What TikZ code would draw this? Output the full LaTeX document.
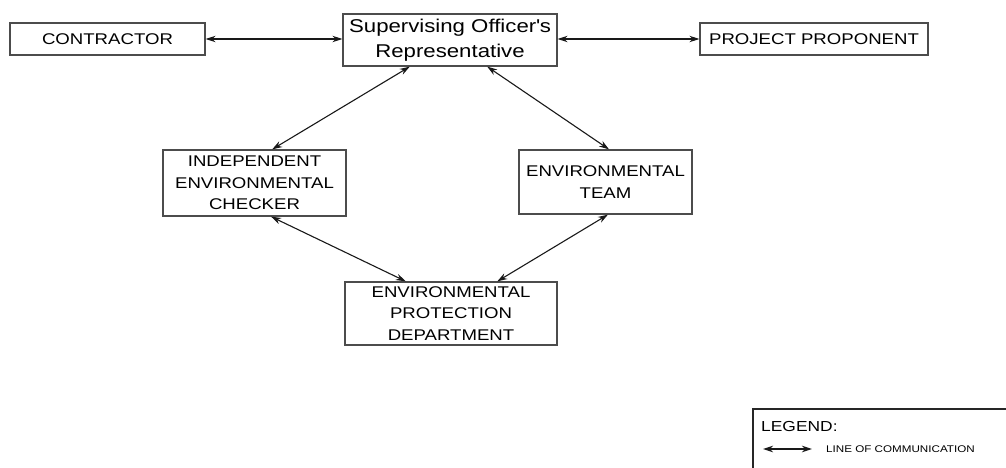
\documentclass[tikz,border=0pt]{standalone}
\usepackage{fontspec}
\setmainfont{Liberation Sans}[FakeStretch=1.2]
\usetikzlibrary{arrows.meta,calc}
\begin{document}
\begin{tikzpicture}[x=1pt,y=-1pt,
  box/.style={draw=black!70,line width=1.3pt,inner sep=0pt,align=center,
    font=\fontsize{15.5}{21.5}\selectfont},
  comm/.style={line width=1.1pt,black!90,
    {Stealth[length=10pt,width=6.5pt]}-{Stealth[length=10pt,width=6.5pt]}}]
\clip (0,0) rectangle (1006,468);
\fill[white] (0,0) rectangle (1006,468);
\node[box,minimum width=195pt,minimum height=32pt] (con) at (107.5,39) {CONTRACTOR};
\node[box,minimum width=214pt,minimum height=52pt,font=\fontsize{18.5}{25}\selectfont] (sor) at (450,40) {Supervising Officer\textquotesingle s\\Representative};
\node[box,minimum width=228pt,minimum height=32pt] (pp) at (814,39) {PROJECT PROPONENT};
\node[box,minimum width=183pt,minimum height=66pt] (iec) at (254.5,183) {INDEPENDENT\\ENVIRONMENTAL\\CHECKER};
\node[box,minimum width=173pt,minimum height=64pt] (et) at (605.5,182) {ENVIRONMENTAL\\TEAM};
\node[box,minimum width=212pt,minimum height=63pt] (epd) at (451,313.5) {ENVIRONMENTAL\\PROTECTION\\DEPARTMENT};
\draw[comm] (con.east) -- (con.east -| sor.west);
\draw[comm] (sor.east |- pp.west) -- (pp.west);
\draw[comm] ($(sor.south west)!0.313!(sor.south east)$) -- ($(iec.north west)!0.596!(iec.north east)$);
\draw[comm] ($(sor.south west)!0.673!(sor.south east)$) -- ($(et.north west)!0.52!(et.north east)$);
\draw[comm] ($(iec.south west)!0.59!(iec.south east)$) -- ($(epd.north west)!0.288!(epd.north east)$);
\draw[comm] ($(et.south west)!0.514!(et.south east)$) -- ($(epd.north west)!0.717!(epd.north east)$);
% legend
\node[draw=black!85,line width=1.6pt,anchor=north west,minimum width=300pt,minimum height=100pt,inner sep=0pt] (legend) at (752,408) {};
\node[anchor=west,inner sep=0pt,font=\fontsize{14.5}{16}\selectfont] (legt) at (761,427) {LEGEND:};
\coordinate (la) at (763,449);
\coordinate (lb) at (812,449);
\draw[comm] (la) -- (lb);
\node[anchor=west,inner sep=0pt,font=\fontsize{9.7}{12}\selectfont] (legc) at (826,449.5) {LINE OF COMMUNICATION};
\end{tikzpicture}
\end{document}
